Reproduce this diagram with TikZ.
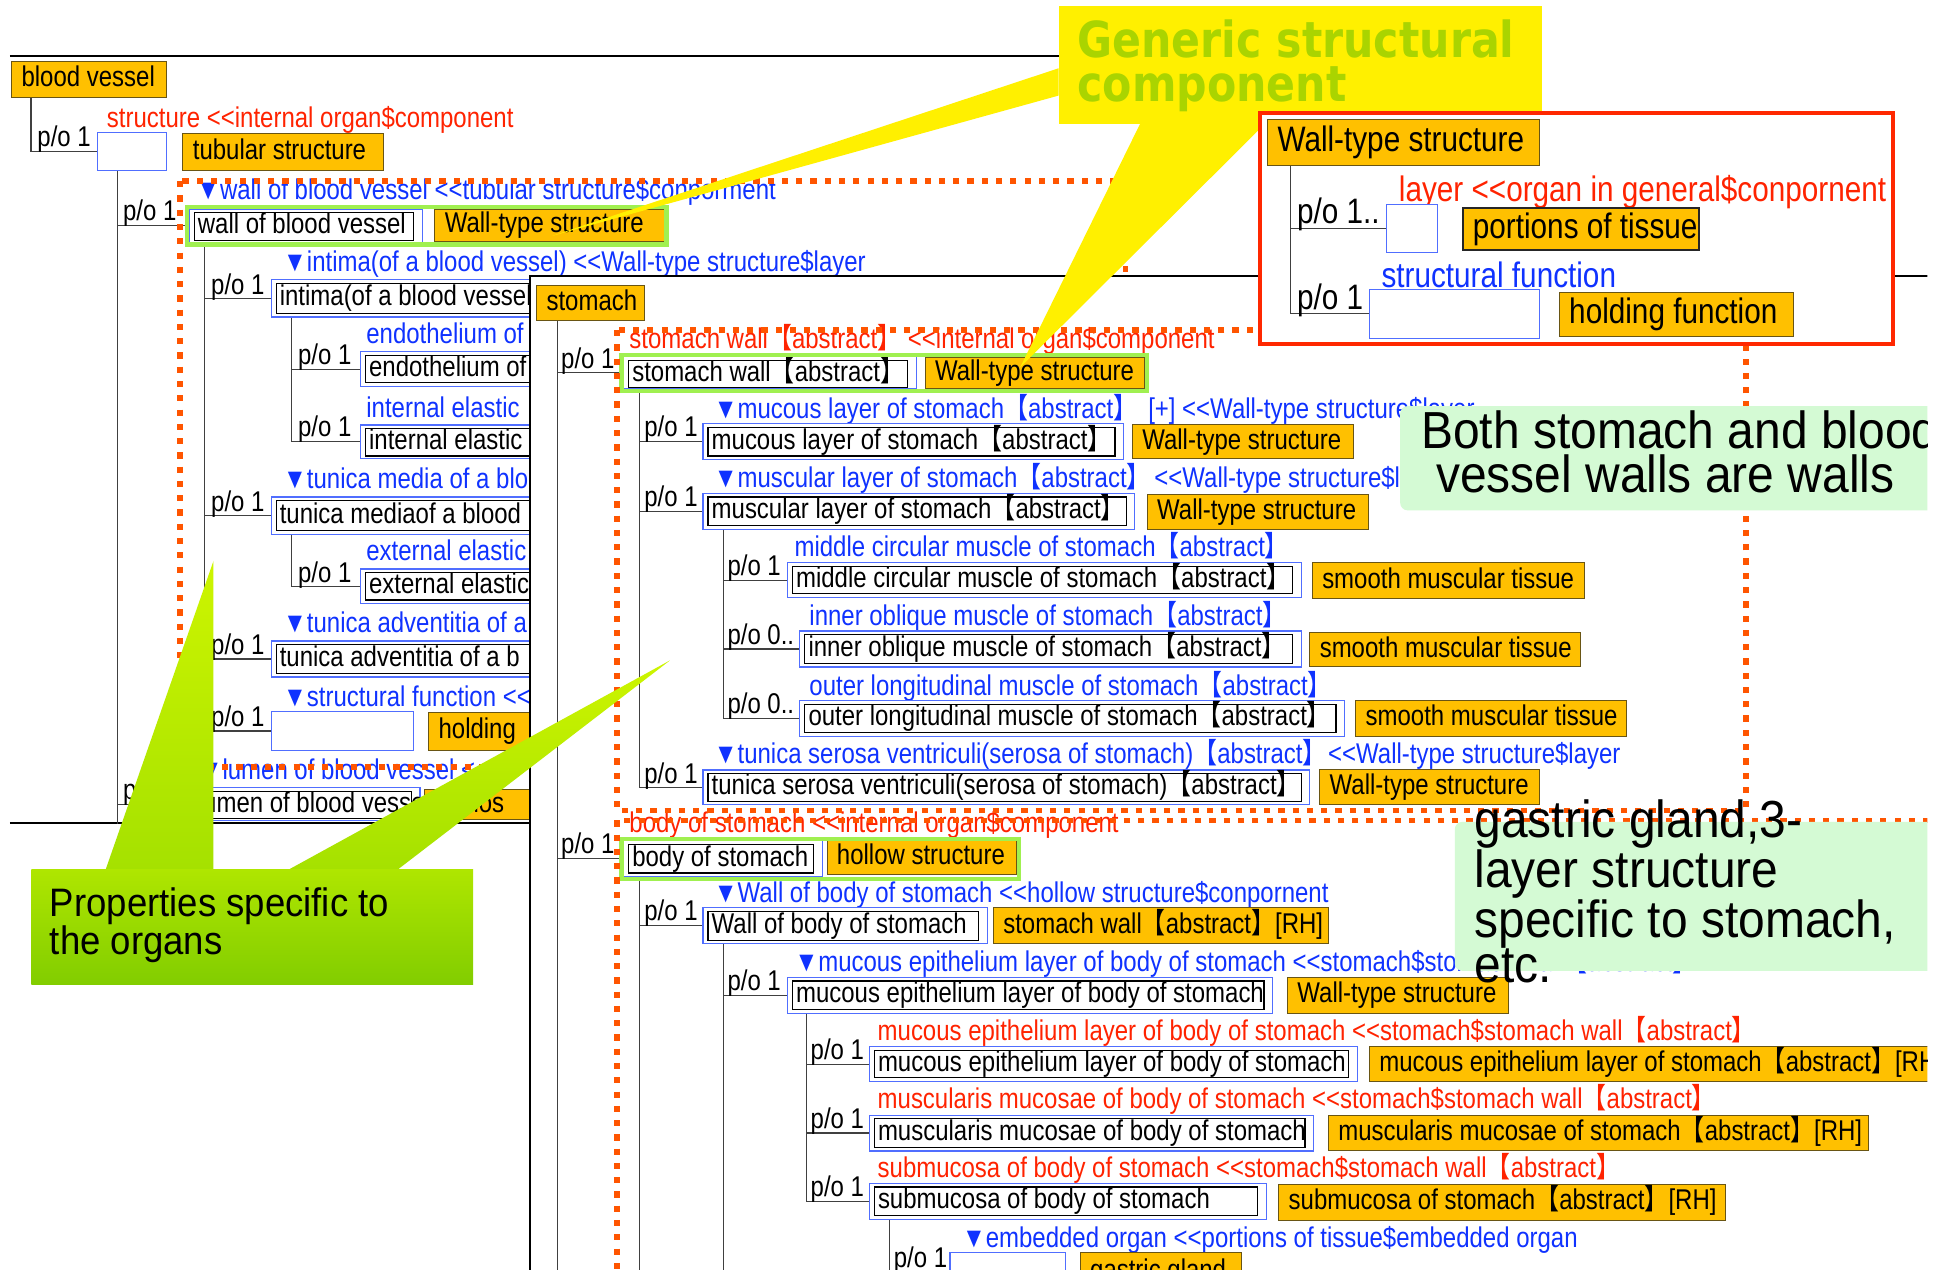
\documentclass[tikz,border=0pt]{standalone}
\usepackage{fontspec}
\usetikzlibrary{calc,fit}

% fonts
\newfontfamily\treefam{Liberation Sans}[FakeStretch=0.84]
\newfontfamily\cjkfam{Noto Sans CJK JP}[FakeStretch=0.84]
\newfontfamily\calfam{Liberation Sans}[FakeStretch=0.92]
\newfontfamily\genfam{DejaVu Sans}[FakeStretch=0.86]

\newcommand\treefont{\treefam\fontsize{23}{27}\selectfont}
\newcommand\bigtreefont{\treefam\fontsize{28.5}{33}\selectfont}
\newcommand\callfont{\calfam\fontsize{42}{37}\selectfont}
\newcommand\propfont{\calfam\fontsize{32}{29}\selectfont}
\newcommand\genfont{\genfam\bfseries\fontsize{40}{36}\selectfont}

% full-width brackets and a double "<" kept apart from ligatures
\newcommand\lbk{{\cjkfam 【}}
\newcommand\rbk{{\cjkfam 】}}
\newcommand\dlt{<\kern0pt<}

% colours
\definecolor{ofill}{RGB}{255,192,0}
\definecolor{obd}{RGB}{105,85,20}
\definecolor{bbc}{RGB}{80,110,255}
\definecolor{bluet}{RGB}{15,50,255}
\definecolor{redt}{RGB}{255,35,0}
\definecolor{dotc}{RGB}{255,85,0}
\definecolor{gfc}{RGB}{160,240,80}
\definecolor{redf}{RGB}{255,40,0}
\definecolor{yel}{RGB}{255,240,0}
\definecolor{gent}{RGB}{170,212,0}
\definecolor{lgc}{RGB}{212,250,212}
\definecolor{wtop}{RGB}{205,245,0}
\definecolor{wbot}{RGB}{165,225,0}
\definecolor{ptop}{RGB}{175,230,0}
\definecolor{pbot}{RGB}{130,205,0}

% orange class box: [style]{name}{x1}{y1}{x2}{y2}{text}
\newcommand\obx[7][]{\node[obox,#1,minimum height=#6pt-#4pt] (#2) at (#3,#4) {\makebox[\dimexpr#5pt-#3pt-16pt\relax][l]{#7}};}
% blue frame with black name box inside: {name}{x1}{y1}{x2}{y2}{text}
\newcommand\cbx[6]{%
  \node[bbox,minimum width=#4pt-#2pt,minimum height=#5pt-#3pt] (#1) at (#2,#3) {};
  \node[kbox,minimum height=#5pt-#3pt-6pt] (#1k) at (#2+4,#3+3) {\makebox[\dimexpr#4pt-#2pt-17pt\relax][l]{#6}};}
% empty blue box
\newcommand\bbx[5]{\node[bbox,minimum width=#4pt-#2pt,minimum height=#5pt-#3pt] (#1) at (#2,#3) {};}
% part-of label
\newcommand\po[5][]{\node[po,#1] (#2) at (#3,#4) {#5};}
% tree connector from a parent box down and across to a child box
\newcommand\tlink[3]{\draw[tline] ($(#1.south west)+(#2,0)$) |- (#3.west);}

\begin{document}
\begin{tikzpicture}[x=1pt,y=-1pt,
  tline/.style={draw=black!75,line width=0.9pt},
  winline/.style={draw=black,line width=1.6pt},
  dotbox/.style={draw=dotc,line width=4.5pt,dash pattern=on 5pt off 6.5pt},
  gframe/.style={draw=gfc,line width=3.5pt,inner sep=1.2pt},
  obox/.style={draw=obd,fill=ofill,line width=0.8pt,anchor=north west,inner xsep=8pt,inner ysep=0pt,font=\treefont,text height=17pt,text depth=5pt},
  bbox/.style={draw=bbc,fill=white,line width=0.9pt,anchor=north west,inner sep=0pt},
  kbox/.style={draw=black,fill=white,line width=0.9pt,anchor=north west,inner xsep=3pt,inner ysep=0pt,font=\treefont,text height=17pt,text depth=5pt},
  lbl/.style={anchor=west,inner sep=0pt,font=\treefont,text height=17pt,text depth=5pt},
  blu/.style={lbl,text=bluet},
  rdt/.style={lbl,text=redt},
  po/.style={anchor=base west,inner sep=0pt,font=\treefont},
  big/.style={font=\bigtreefont,text height=21pt,text depth=6pt},
]
\path[use as bounding box] (0,0) rectangle (1568,1023);
\fill[white] (0,0) rectangle (1568,1023);

\begin{scope}
\clip (0,0) rectangle (1553,1023);

% ---------------- blood vessel window ----------------
\draw[winline] (8,45) -- (1000,45);
\draw[winline] (8,663) -- (430,663);

\obx{bv}{9}{49}{134}{78}{blood vessel}
\bbx{bvs}{78}{106}{134}{137}
\node[rdt] (bvsl) at (86,97) {structure \dlt internal organ\$component};
\obx{tub}{147}{107}{309}{137}{tubular structure}

\node[blu] (wbvl) at (158,155) {▼wall of blood vessel \dlt tubular structure\$conporment};
\cbx{wbv}{152}{168}{340}{195}{wall of blood vessel}
\obx{wbt}{350}{168}{535}{194}{Wall-type structure}

\node[blu] (intil) at (228,213) {▼intima(of a blood vessel) \dlt Wall-type structure\$layer};
\cbx{inti}{218}{225}{520}{255}{intima(of a blood vessel)}
\node[blu] (endol) at (295,271) {endothelium of};
\cbx{endo}{290}{283}{520}{311}{endothelium of}
\node[blu] (iell) at (295,330) {internal elastic};
\cbx{iel}{290}{342}{520}{369}{internal elastic}
\node[blu] (medl) at (228,388) {▼tunica media of a blood};
\cbx{med}{218}{400}{520}{430}{tunica mediaof a blood}
\node[blu] (eell) at (295,446) {external elastic};
\cbx{eel}{290}{458}{520}{486}{external elastic}
\node[blu] (advl) at (228,504) {▼tunica adventitia of a};
\cbx{adv}{218}{516}{520}{545}{tunica adventitia of a b}
\node[blu] (sfl) at (228,563) {▼structural function \dlt};
\bbx{sf}{218}{573}{333}{604}
\obx{hold}{345}{574}{520}{604}{holding}
\node[blu] (luml) at (160,622) {▼lumen of blood vessel \dlt};
\cbx{lum}{152}{634}{338}{661}{lumen of blood vessel}
\obx{encl}{342}{636}{520}{660}{enclos}

\tlink{bv}{16}{bvs}
\tlink{bvs}{17}{wbv}
\tlink{bvs}{17}{lum}
\draw[tline] (lum.west -| bvs.south west) ++(17,0) -- ++(0,16);
\tlink{wbv}{13}{inti}
\tlink{wbv}{13}{med}
\tlink{wbv}{13}{adv}
\tlink{wbv}{13}{sf}
\tlink{inti}{17}{endo}
\tlink{inti}{17}{iel}
\tlink{med}{17}{eel}

\po{pbv}{30}{118}{p/o 1}
\po{pwbv}{99}{178}{p/o 1}
\po{plum}{99}{644}{p/o 1}
\po{pinti}{170}{237}{p/o 1}
\po{pmed}{170}{412}{p/o 1}
\po{padv}{170}{527}{p/o 1}
\po{psf}{170}{585}{p/o 1}
\po{pendo}{240}{294}{p/o 1}
\po{piel}{240}{352}{p/o 1}
\po{peel}{240}{469}{p/o 1}

\node[gframe,fit=(wbv)(wbt)] (g1) {};
\draw[dotbox] (145,146) rectangle (907,618);

% ---------------- stomach window ----------------
\fill[white] (427,222) rectangle (1600,1100);
\draw[winline] (427,1100) -- (427,222) -- (1600,222);

\obx{st}{432}{230}{519}{258}{stomach}
\node[rdt] (swl) at (507,275) {stomach wall\lbk abstract\rbk{} \dlt internal organ\$component};
\cbx{sw}{502}{287}{738}{313}{stomach wall\lbk abstract\rbk}
\obx{swt}{745}{288}{922}{313}{Wall-type structure}

\node[blu] (mlsl) at (575,331) {▼mucous layer of stomach\lbk abstract\rbk};
\node[blu] (mlsl2) at (925,331) {[+] \dlt Wall-type structure\$layer};
\cbx{mls}{566}{341}{905}{370}{mucous layer of stomach\lbk abstract\rbk}
\obx{mlst}{912}{342}{1090}{369}{Wall-type structure}

\node[blu] (musl) at (575,387) {▼muscular layer of stomach\lbk abstract\rbk};
\node[blu] (musl2) at (930,387) {\dlt Wall-type structure\$layer};
\cbx{mus}{566}{397}{914}{426}{muscular layer of stomach\lbk abstract\rbk}
\obx{must}{924}{398}{1102}{426}{Wall-type structure}

\node[blu] (mcl) at (640,442) {middle circular muscle of stomach\lbk abstract\rbk};
\cbx{mc}{634}{453}{1048}{481}{middle circular muscle of stomach\lbk abstract\rbk}
\obx{mct}{1057}{453}{1276}{482}{smooth muscular tissue}
\node[blu] (iol) at (652,498) {inner oblique muscle of stomach\lbk abstract\rbk};
\cbx{io}{644}{508}{1048}{537}{inner oblique muscle of stomach\lbk abstract\rbk}
\obx{iot}{1055}{509}{1273}{537}{smooth muscular tissue}
\node[blu] (oll) at (652,554) {outer longitudinal muscle of stomach\lbk abstract\rbk};
\cbx{ol}{644}{564}{1083}{593}{outer longitudinal muscle of stomach\lbk abstract\rbk}
\obx{olt}{1092}{564}{1310}{593}{smooth muscular tissue}

\node[blu] (serl) at (575,609) {▼tunica serosa ventriculi(serosa of stomach)\lbk abstract\rbk};
\node[blu] (serl2) at (1070,609) {\dlt Wall-type structure\$layer};
\cbx{ser}{566}{620}{1055}{648}{tunica serosa ventriculi(serosa of stomach)\lbk abstract\rbk}
\obx{sert}{1063}{620}{1240}{648}{Wall-type structure}

\node[rdt] (bosl) at (507,665) {body of stomach \dlt internal organ\$component};
\cbx{bos}{502}{677}{662}{706}{body of stomach}
\obx{bost}{666}{677}{819}{704}{hollow structure}

\node[blu] (wbsl) at (575,721) {▼Wall of body of stomach \dlt hollow structure\$conpornent};
\cbx{wbs}{566}{731}{795}{760}{Wall of body of stomach}
\obx{wbst}{800}{731}{1070}{760}{stomach wall\lbk abstract\rbk[RH]}

\node[blu] (mell) at (640,777) {▼mucous epithelium layer of body of stomach \dlt stomach\$stomach wall\lbk abstract\rbk};
\cbx{mel}{634}{787}{1025}{816}{mucous epithelium layer of body of stomach}
\obx{melt}{1037}{787}{1215}{816}{Wall-type structure}

\node[rdt] (mal) at (707,832) {mucous epithelium layer of body of stomach \dlt stomach\$stomach wall\lbk abstract\rbk};
\cbx{ma}{700}{843}{1093}{871}{mucous epithelium layer of body of stomach}
\obx{mat}{1103}{843}{1600}{871}{mucous epithelium layer of stomach\lbk abstract\rbk[RH]}
\node[rdt] (mbl) at (707,887) {muscularis mucosae of body of stomach \dlt stomach\$stomach wall\lbk abstract\rbk};
\cbx{mb}{700}{898}{1058}{927}{muscularis mucosae of body of stomach}
\obx{mbt}{1070}{898}{1505}{927}{muscularis mucosae of stomach\lbk abstract\rbk[RH]}
\node[rdt] (sml) at (707,943) {submucosa of body of stomach \dlt stomach\$stomach wall\lbk abstract\rbk};
\cbx{sm}{700}{953}{1020}{982}{submucosa of body of stomach}
\obx{smt}{1030}{954}{1390}{983}{submucosa of stomach\lbk abstract\rbk[RH]}

\node[blu] (embl) at (775,999) {▼embedded organ \dlt portions of tissue\$embedded organ};
\bbx{emb}{765}{1009}{858}{1040}
\obx{embt}{870}{1009}{1000}{1040}{gastric gland}

\tlink{st}{17}{sw}
\tlink{st}{17}{bos}
\draw[tline] ($(st.south west)+(17,0)$) -- ++(0,800);
\tlink{sw}{13}{mls}
\tlink{sw}{13}{mus}
\tlink{sw}{13}{ser}
\tlink{mus}{17}{mc}
\tlink{mus}{17}{io}
\tlink{mus}{17}{ol}
\tlink{bos}{13}{wbs}
\draw[tline] ($(bos.south west)+(13,0)$) -- ++(0,400);
\tlink{wbs}{17}{mel}
\draw[tline] ($(wbs.south west)+(17,0)$) -- ++(0,300);
\tlink{mel}{16}{ma}
\tlink{mel}{16}{mb}
\tlink{mel}{16}{sm}
\tlink{sm}{17}{emb}
\draw[tline] ($(sm.south west)+(17,0)$) -- ++(0,100);

\po{psw}{452}{297}{p/o 1}
\po{pbos}{452}{688}{p/o 1}
\po{pmls}{519}{352}{p/o 1}
\po{pmus}{519}{408}{p/o 1}
\po{pser}{519}{631}{p/o 1}
\po{pmc}{586}{464}{p/o 1}
\po{pio}{586}{519}{p/o 0..}
\po{pol}{586}{575}{p/o 0..}
\po{pwbs}{519}{742}{p/o 1}
\po{pmel}{586}{798}{p/o 1}
\po{pma}{653}{854}{p/o 1}
\po{pmb}{653}{909}{p/o 1}
\po{psm}{653}{964}{p/o 1}
\po{pemb}{720}{1021}{p/o 1}

\node[gframe,fit=(sw)(swt)] (g2) {};
\node[gframe,fit=(bos)(bost)] (g3) {};
\draw[dotbox] (497,266) rectangle (1407,653);
\draw[dotbox] (497,661) rectangle (1700,1200);

% ---------------- generic component callout ----------------
\fill[yel] (853,55) -- (445,190) -- (853,77) -- cycle;
\fill[yel] (919,99) -- (822,296) -- (1020,99) -- cycle;
\node[fill=yel,anchor=north west,minimum width=389pt,minimum height=95pt,inner sep=0pt] (gen) at (853,5) {};
\node[anchor=base west,inner sep=0pt,font=\genfont,text=gent,align=left] (gentx) at (868,82) {Generic structural\\component};

% ---------------- wall-type structure definition ----------------
\filldraw[draw=redf,fill=white,line width=3pt] (1015,91) rectangle (1525,277);
\obx[big]{wts}{1021}{96}{1240}{133}{Wall-type structure}
\node[rdt,big] (layl) at (1127,155) {layer \dlt organ in general\$conpornent};
\bbx{lay}{1117}{164}{1158}{203}
\obx[big,line width=1.6pt,draw=black!85]{pot}{1178}{167}{1368}{201}{portions of tissue}
\node[blu,big] (sfnl) at (1113,224) {structural function};
\bbx{sfn}{1103}{233}{1240}{272}
\obx[big]{hfn}{1256}{235}{1445}{271}{holding function}
\tlink{wts}{19}{lay}
\tlink{wts}{19}{sfn}
\po[big]{pwl}{1045}{180}{p/o 1..}
\po[big]{pws}{1045}{249}{p/o 1}

% ---------------- comment callouts ----------------
\node[fill=lgc,rounded corners=6pt,anchor=north west,minimum width=460pt,minimum height=84pt,inner sep=0pt] (c1) at (1128,327) {};
\node[anchor=base west,inner sep=0pt,font=\callfont] (c1a) at (1145,361) {Both stomach and blood};
\node[anchor=base west,inner sep=0pt,font=\callfont] (c1b) at (1157,397) {vessel walls are walls};

\node[fill=lgc,rounded corners=6pt,anchor=north west,minimum width=460pt,minimum height=120pt,inner sep=0pt] (c2) at (1172,662) {};
\node[anchor=base west,inner sep=0pt,font=\callfont,align=left] (c2t) at (1188,792) {gastric gland,3-\\layer structure\\specific to stomach,\\etc.};

\shade[top color=wtop,bottom color=wbot] (85,701) -- (172,452) -- (172,701) -- cycle;
\shade[top color=wtop,bottom color=wbot] (232,701) -- (540,532) -- (320,701) -- cycle;
\node[top color=ptop,bottom color=pbot,anchor=north west,minimum width=356pt,minimum height=93pt,inner sep=0pt] (prop) at (25,700) {};
\node[anchor=base west,inner sep=0pt,font=\propfont,align=left] (propt) at (40,769) {Properties specific to\\the organs};
\end{scope}
\end{tikzpicture}
\end{document}
